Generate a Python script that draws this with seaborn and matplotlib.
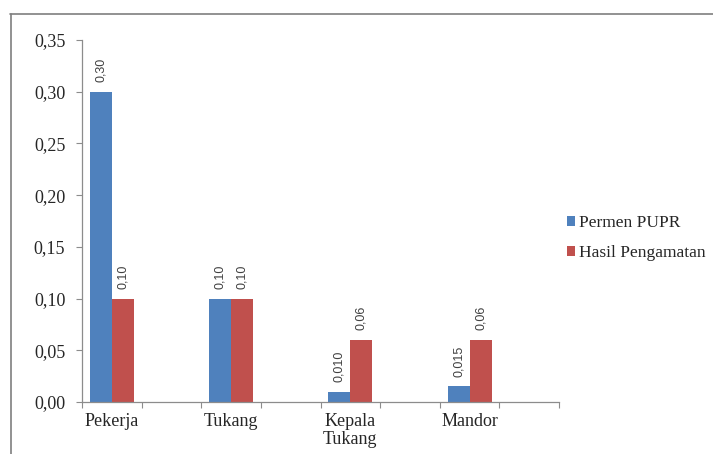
import matplotlib
matplotlib.use("Agg")
import matplotlib.pyplot as plt
from matplotlib.lines import Line2D
from matplotlib.patches import Patch
import seaborn as sns
import pandas as pd
import numpy as np

categories = ["Pekerja", "Tukang", "Kepala\nTukang", "Mandor"]
permen_pupr = [0.30, 0.10, 0.010, 0.015]
hasil_pengamatan = [0.10, 0.10, 0.06, 0.06]
permen_labels = ["0,30", "0,10", "0,010", "0,015"]
hasil_labels = ["0,10", "0,10", "0,06", "0,06"]
series_names = ["Permen PUPR", "Hasil Pengamatan"]
y_ticks = [0.00, 0.05, 0.10, 0.15, 0.20, 0.25, 0.30, 0.35]

colors = ["#4F81BD", "#C0504D"]

sns.set_style("white")
plt.rcParams["font.family"] = ["Liberation Serif", "DejaVu Serif"]

df = pd.DataFrame({
    "Kategori": categories * 2,
    "Nilai": permen_pupr + hasil_pengamatan,
    "Seri": [series_names[0]] * 4 + [series_names[1]] * 4,
})

# each category is followed by an empty slot
order = []
for i, c in enumerate(categories):
    order += [c, " " * (i + 1)]

fig = plt.figure(figsize=(7.13, 4.54), dpi=100)
ax = fig.add_axes([82 / 713, 52 / 454, 477 / 713, 362 / 454])

sns.barplot(data=df, x="Kategori", y="Nilai", hue="Seri", order=order,
            hue_order=series_names, palette=colors, width=0.74,
            saturation=1, ax=ax, legend=False, linewidth=0)

ax.set_ylim(0, 0.35)
ax.set_xlim(-0.5, len(order) - 0.5)
ax.set_yticks(y_ticks)
ax.set_yticklabels([f"{v:.2f}".replace(".", ",") for v in y_ticks], fontsize=13)
ax.set_xlabel("")
ax.set_ylabel("")

# category labels centred in slots, tick marks on slot boundaries
ax.set_xticks(range(len(order)))
ax.set_xticklabels(order, fontsize=13, linespacing=1.1)
ax.set_xticks(np.arange(-0.5, len(order), 1.0), minor=True)
ax.tick_params(axis="x", which="major", length=0, pad=8)
ax.tick_params(axis="x", which="minor", length=4, width=0.8, color="#8c8c8c",
               direction="out", bottom=True)
ax.tick_params(axis="y", which="major", length=4, width=0.8, color="#8c8c8c",
               direction="out", left=True, pad=8)

for side in ["top", "right"]:
    ax.spines[side].set_visible(False)
for side in ["left", "bottom"]:
    ax.spines[side].set_color("#8c8c8c")
    ax.spines[side].set_linewidth(0.9)

# value labels above bars
labels_by_series = [permen_labels, hasil_labels]
for s_idx, container in enumerate(ax.containers):
    for bar, txt in zip(container, labels_by_series[s_idx]):
        x = bar.get_x() + bar.get_width() / 2
        h = bar.get_height()
        ax.annotate(txt, xy=(x, h), xytext=(0, 7), textcoords="offset points",
                    rotation=90, ha="center", va="bottom", fontsize=9,
                    color="#404040", family=["Liberation Sans", "DejaVu Sans"])

handles = [Patch(facecolor=c, edgecolor="none") for c in colors]
fig.legend(handles, series_names, loc="center left",
           bbox_to_anchor=(551 / 713, 1 - 238 / 454), frameon=False,
           fontsize=12.5, handlelength=0.5, handleheight=0.5, handletextpad=0.2,
           labelspacing=0.8)

# chart area frame
fig.add_artist(Line2D([10 / 713, 1.0], [1 - 13.5 / 454] * 2,
                      transform=fig.transFigure, color="#7f7f7f", lw=1.2))
fig.add_artist(Line2D([10.5 / 713] * 2, [0.0, 1 - 13.5 / 454],
                      transform=fig.transFigure, color="#7f7f7f", lw=1.2))

fig.savefig("out.png", dpi=100)
